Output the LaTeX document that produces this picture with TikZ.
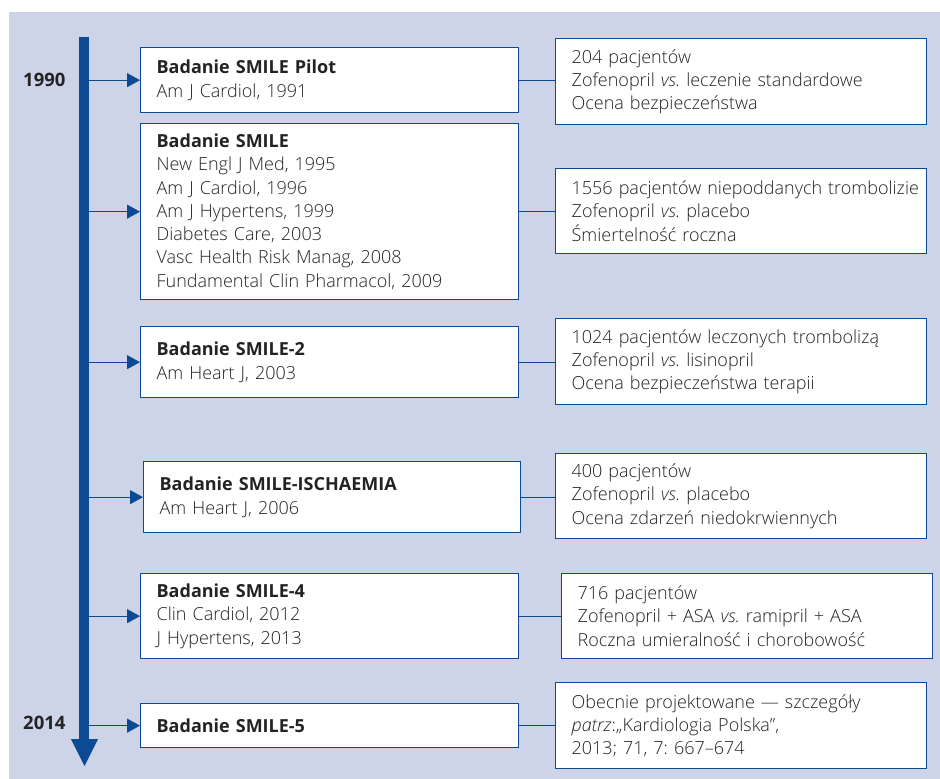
\documentclass[tikz,border=0pt]{standalone}
\usepackage{fontspec}
\setmainfont{Open Sans}[UprightFont=* Light, BoldFont=* Bold, ItalicFont=* Light Italic, BoldItalicFont=* Bold Italic]
\usepackage{tikz}
\usepackage{xcolor}
\usetikzlibrary{arrows.meta}

\definecolor{panelbg}{RGB}{206,212,232}
\definecolor{smileblue}{RGB}{12,74,148}
\definecolor{inkgray}{RGB}{35,35,35}

\begin{document}
\frenchspacing
\begin{tikzpicture}[x=1pt, y=-1pt,
                    study/.style={draw=smileblue, line width=1.3pt, fill=white, anchor=north west,
                                  align=left, inner xsep=16pt, inner ysep=0pt, text width=346pt,
                                  text=inkgray, font=\fontsize{18}{23.3}\selectfont},
                    result/.style={study, text width=339pt},
                    year/.style={anchor=east, text=inkgray, font=\bfseries\fontsize{18.5}{22}\selectfont},
                    link/.style={draw=smileblue, line width=1.3pt},
                    pointer/.style={link, -{Triangle[length=13pt, width=14pt]}}]
                    \useasboundingbox (0,0) rectangle (940,779);
                    \fill[panelbg] (9,12) rectangle (940,779);

                    \fill[smileblue] (79,37) rectangle (89,740);
                    \fill[smileblue] (71,739) -- (98,739) -- (84.5,766) -- cycle;
                    \coordinate (B) at (89,0);

                    \node[year] (Y1) at (69,80) {1990};
                    \node[year] (Y2) at (69,723) {2014};

                    \node[study, minimum height=65pt] (S1) at (140,47)
                        {\textbf{Badanie SMILE Pilot}\\Am J Cardiol, 1991};
                    \node[study, minimum height=176pt] (S2) at (140,123)
                        {\textbf{Badanie SMILE}\\New Engl J Med, 1995\\Am J Cardiol, 1996\\Am J Hypertens, 1999\\Diabetes Care, 2003\\Vasc Health Risk Manag, 2008\\Fundamental Clin Pharmacol, 2009};
                    \node[study, minimum height=71pt] (S3) at (140,326)
                        {\textbf{Badanie SMILE-2}\\Am Heart J, 2003};
                    \node[study, minimum height=71pt, text width=345pt] (S4) at (143,461)
                        {\textbf{Badanie SMILE-ISCHAEMIA}\\Am Heart J, 2006};
                    \node[study, minimum height=85pt] (S5) at (140,573)
                        {\textbf{Badanie SMILE-4}\\Clin Cardiol, 2012\\J Hypertens, 2013};
                    \node[study, minimum height=44pt] (S6) at (140,703)
                        {\textbf{Badanie SMILE-5}};

                    \node[result, minimum height=86pt] (R1) at (555,38)
                        {204 pacjentów\\Zofenopril \textit{vs.} leczenie standardowe\\Ocena bezpieczeństwa};
                    \node[result, minimum height=85pt] (R2) at (555,168)
                        {\mbox{1556 pacjentów niepoddanych trombolizie}\\Zofenopril \textit{vs.} placebo\\Śmiertelność roczna};
                    \node[result, minimum height=86pt] (R3) at (555,318)
                        {1024 pacjentów leczonych trombolizą\\Zofenopril \textit{vs.} lisinopril\\Ocena bezpieczeństwa terapii};
                    \node[result, minimum height=85pt] (R4) at (555,453)
                        {400 pacjentów\\Zofenopril \textit{vs.} placebo\\Ocena zdarzeń niedokrwiennych};
                    \node[result, minimum height=85pt] (R5) at (561,573)
                        {716 pacjentów\\Zofenopril + ASA \textit{vs.} ramipril + ASA\\Roczna umieralność i chorobowość};
                    \node[result, minimum height=86pt] (R6) at (555,682)
                        {Obecnie projektowane — szczegóły\\\textit{patrz}:„Kardiologia Polska",\\2013; 71, 7: 667–674};

                    \draw[pointer] (B |- S1.west) -- (S1.west);
                    \draw[pointer] (B |- S2.west) -- (S2.west);
                    \draw[pointer] (B |- S3.west) -- (S3.west);
                    \draw[pointer] (B |- S4.west) -- (S4.west);
                    \draw[pointer] (B |- S5.west) -- (S5.west);
                    \draw[pointer] (B |- S6.west) -- (S6.west);

                    \draw[link] (S1.east) -- (S1.east -| R1.west);
                    \draw[link] (S2.east) -- (S2.east -| R2.west);
                    \draw[link] (S3.east) -- (S3.east -| R3.west);
                    \draw[link] (S4.east) -- (S4.east -| R4.west);
                    \draw[link] (S5.east) -- (S5.east -| R5.west);
                    \draw[link] (S6.east) -- (S6.east -| R6.west);
                \end{tikzpicture}
\end{document}
